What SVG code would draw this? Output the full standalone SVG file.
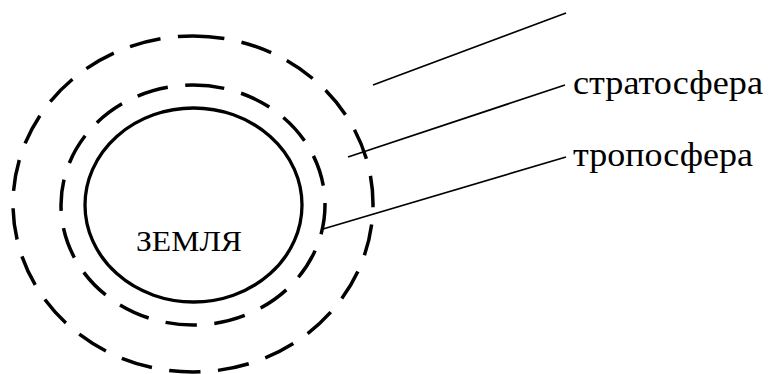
<svg xmlns="http://www.w3.org/2000/svg" width="771" height="374" viewBox="0 0 771 374">
<style>
.dash{fill:none;stroke:#000;stroke-width:3.5;stroke-dasharray:31.5 17.5}
.solid{fill:none;stroke:#000;stroke-width:3.3}
.lead{fill:none;stroke:#000;stroke-width:1.7}
.lbl{font-family:'Liberation Serif','DejaVu Serif',serif;fill:#000}
</style>
<rect width="771" height="374" fill="#fff"/>
<g id="atmosphere">
<path d="M193 36 A180 168 0 0 1 193 372 A180 168 0 0 1 193 36 Z" class="dash"/>
</g>
<g id="stratosphere-layer">
<path d="M193 85 A132 120 0 0 1 193 325 A132 120 0 0 1 193 85 Z" class="dash"/>
</g>
<g id="earth">
<ellipse cx="193.5" cy="205" rx="108.5" ry="97" class="solid"/>
<text x="136" y="251" class="lbl" font-size="30" textLength="106" lengthAdjust="spacingAndGlyphs">ЗЕМЛЯ</text>
</g>
<g id="connectors">
<line x1="373" y1="85" x2="566" y2="13" class="lead"/>
<line x1="348" y1="157" x2="565" y2="85" class="lead"/>
<line x1="323" y1="229" x2="566" y2="157" class="lead"/>
</g>
<g id="labels">
<text x="573" y="94" class="lbl" font-size="34" textLength="190" lengthAdjust="spacingAndGlyphs">стратосфера</text>
<text x="573" y="166" class="lbl" font-size="34" textLength="180" lengthAdjust="spacingAndGlyphs">тропосфера</text>
</g>
</svg>
